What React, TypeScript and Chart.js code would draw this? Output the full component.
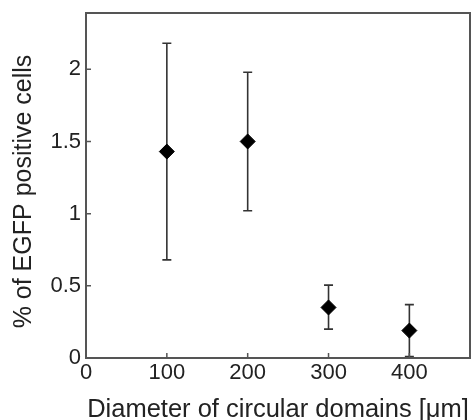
import React, { useEffect, useRef } from "react";
import { Chart, registerables } from "chart.js";

Chart.register(...registerables);

const xValues = [100, 200, 300, 400];
const meanValues = [1.43, 1.5, 0.35, 0.19];
const upperValues = [2.18, 1.98, 0.505, 0.37];
const lowerValues = [0.68, 1.02, 0.2, 0.01];
const xTicks = [0, 100, 200, 300, 400];
const yTicks = [0, 0.5, 1, 1.5, 2];
const xLabel = "Diameter of circular domains [\u03bcm]";
const yLabel = "% of EGFP positive cells";

const FONT = "'Liberation Sans', Arial, sans-serif";
const FRAME = "#555555";
const TEXT = "#222222";

const frameAndErrors = {
  id: "frameAndErrors",
  beforeDatasetsDraw(chart: any) {
    const ctx = chart.ctx;
    const xs = chart.scales.x;
    const ys = chart.scales.y;
    ctx.save();
    ctx.strokeStyle = "#333333";
    ctx.lineWidth = 1.6;
    const cap = 4.5;
    xValues.forEach((xv, i) => {
      const px = xs.getPixelForValue(xv);
      const pTop = ys.getPixelForValue(upperValues[i]);
      const pBot = ys.getPixelForValue(lowerValues[i]);
      ctx.beginPath();
      ctx.moveTo(px, pTop);
      ctx.lineTo(px, pBot);
      ctx.moveTo(px - cap, pTop);
      ctx.lineTo(px + cap, pTop);
      ctx.moveTo(px - cap, pBot);
      ctx.lineTo(px + cap, pBot);
      ctx.stroke();
    });
    ctx.restore();
  },
  afterDraw(chart: any) {
    const ctx = chart.ctx;
    const a = chart.chartArea;
    const xs = chart.scales.x;
    const ys = chart.scales.y;
    ctx.save();
    ctx.strokeStyle = FRAME;
    ctx.lineWidth = 2;
    ctx.strokeRect(a.left, a.top, a.right - a.left, a.bottom - a.top);
    ctx.lineWidth = 1.5;
    ctx.beginPath();
    xTicks.forEach((v) => {
      const px = xs.getPixelForValue(v);
      ctx.moveTo(px, a.bottom);
      ctx.lineTo(px, a.bottom - 5);
    });
    yTicks.forEach((v) => {
      const py = ys.getPixelForValue(v);
      ctx.moveTo(a.left, py);
      ctx.lineTo(a.left + 5, py);
    });
    ctx.stroke();
    // y-axis title
    ctx.fillStyle = TEXT;
    ctx.font = `25px ${FONT}`;
    ctx.textAlign = "center";
    ctx.textBaseline = "middle";
    ctx.translate(24, (a.top + a.bottom) / 2 + 6);
    ctx.rotate(-Math.PI / 2);
    ctx.fillText(yLabel, 0, 0);
    ctx.restore();
  },
};

export default function App() {
  const ref = useRef<HTMLCanvasElement>(null);
  useEffect(() => {
    if (!ref.current) return;
    const chart = new Chart(ref.current, {
      type: "scatter",
      data: {
        datasets: [
          {
            data: xValues.map((x, i) => ({ x, y: meanValues[i] })),
            pointStyle: "rectRot",
            pointRadius: 7.5,
            backgroundColor: "#000000",
            borderColor: "#000000",
            borderWidth: 1,
          },
        ],
      },
      options: {
        responsive: false,
        animation: false,
        layout: { autoPadding: false, padding: { top: 13, right: 2, left: 0, bottom: 0 } },
        plugins: { legend: { display: false }, tooltip: { enabled: false } },
        scales: {
          x: {
            type: "linear",
            min: 0,
            max: 475,
            afterBuildTicks: (s: any) => {
              s.ticks = xTicks.map((v) => ({ value: v }));
            },
            afterFit: (s: any) => {
              s.height = 62;
              s.paddingRight = 0;
              s.paddingLeft = 0;
            },
            grid: { display: false, drawTicks: false },
            border: { display: false },
            ticks: {
              padding: 2,
              color: TEXT,
              font: { family: FONT, size: 22 },
              maxRotation: 0,
              callback: (v: any) => String(v),
            },
            title: {
              display: true,
              text: xLabel,
              color: TEXT,
              font: { family: FONT, size: 25.5, lineHeight: 1 },
              padding: { top: 0, bottom: -3 },
            },
          },
          y: {
            type: "linear",
            min: 0,
            max: 2.39,
            afterBuildTicks: (s: any) => {
              s.ticks = yTicks.map((v) => ({ value: v }));
            },
            afterFit: (s: any) => {
              s.width = 86;
              s.paddingTop = 0;
              s.paddingBottom = 0;
            },
            grid: { display: false, drawTicks: false },
            border: { display: false },
            ticks: {
              padding: 5,
              color: TEXT,
              font: { family: FONT, size: 22 },
              callback: (v: any) => String(v),
            },
            title: { display: false },
          },
        },
      },
      plugins: [frameAndErrors],
    });
    return () => chart.destroy();
  }, []);
  return (
    <div style={{ position: "absolute", left: 0, top: 0, width: 472, height: 420, background: "#fff" }}>
      <canvas ref={ref} width={472} height={420} />
    </div>
  );
}
